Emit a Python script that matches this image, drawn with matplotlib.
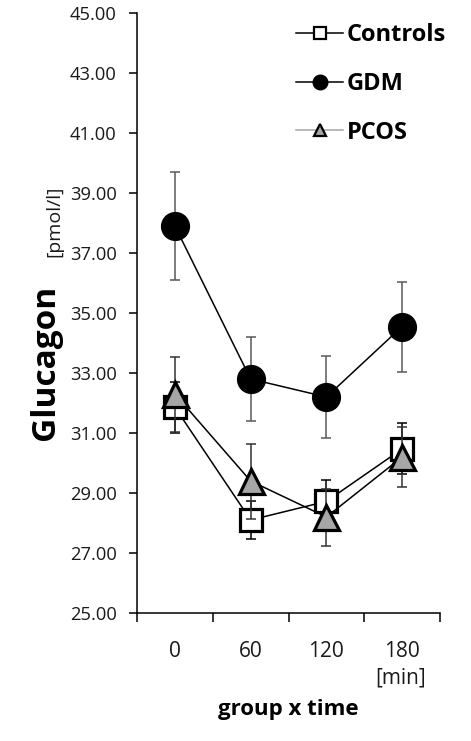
import matplotlib
matplotlib.use("Agg")
import matplotlib.pyplot as plt
from matplotlib.lines import Line2D
import numpy as np

plt.rcParams['font.family'] = ['Open Sans', 'DejaVu Sans']

categories = ["0", "60", "120", "180"]
controls = [31.86, 28.10, 28.72, 30.47]
controls_err = [0.85, 0.65, 0.70, 0.85]
gdm = [37.90, 32.80, 32.20, 34.55]
gdm_err = [1.80, 1.40, 1.35, 1.50]
pcos = [32.30, 29.40, 28.20, 30.20]
pcos_err = [1.25, 1.25, 0.95, 1.00]
yticks = [25, 27, 29, 31, 33, 35, 37, 39, 41, 43, 45]

W, H = 471, 741
fig = plt.figure(figsize=(W / 100, H / 100), dpi=100)
ax = fig.add_axes([137 / W, 1 - 613 / H, (440 - 137) / W, (613 - 13) / H])

x = np.arange(len(categories))

ax.errorbar(x, controls, yerr=controls_err, fmt='none', ecolor='black',
            elinewidth=1.1, capsize=3.6, capthick=1.1, zorder=2)
ax.plot(x, controls, '-', color='black', lw=1.1, marker='s', markersize=16.5,
        markerfacecolor='white', markeredgecolor='black', markeredgewidth=2.3, zorder=3)

ax.errorbar(x, pcos, yerr=pcos_err, fmt='none', ecolor='#333333',
            elinewidth=1.1, capsize=3.6, capthick=1.1, zorder=4)
ax.plot(x, pcos, '-', color='black', lw=1.1, marker='^', markersize=18,
        markerfacecolor='#a6a6a6', markeredgecolor='black', markeredgewidth=2.3, zorder=5)

ax.errorbar(x, gdm, yerr=gdm_err, fmt='none', ecolor='#595959',
            elinewidth=1.1, capsize=3.6, capthick=1.1, zorder=6)
ax.plot(x, gdm, '-', color='black', lw=1.1, marker='o', markersize=20,
        markerfacecolor='black', markeredgecolor='black', zorder=7)

ax.set_xlim(-0.5, len(categories) - 0.5)
ax.set_ylim(25, 45)
ax.set_yticks(yticks)
ax.set_yticklabels([f"{v:.2f}" for v in yticks], fontsize=13.2, color='#1a1a1a')
ax.tick_params(axis='y', direction='out', length=5.5, width=1.1, pad=9)

ax.set_xticks(x)
ax.set_xticklabels(categories, fontsize=15, color='#1a1a1a')
ax.set_xticks(np.arange(len(categories) + 1) - 0.5, minor=True)
ax.tick_params(axis='x', which='major', length=0, pad=20)
ax.tick_params(axis='x', which='minor', direction='out', length=6.5, width=1.1)

for s in ['top', 'right']:
    ax.spines[s].set_visible(False)
for s in ['left', 'bottom']:
    ax.spines[s].set_linewidth(1.1)

fig.text(45 / W, 1 - 362 / H, "Glucagon", rotation=90, fontsize=24, fontweight='bold',
         ha='center', va='center')
fig.text(54 / W, 1 - 221 / H, "[pmol/l]", rotation=90, fontsize=14,
         ha='center', va='center', color='#1a1a1a')
fig.text(401 / W, 1 - 678 / H, "[min]", fontsize=15, ha='center', va='center', color='#1a1a1a')
fig.text(288 / W, 1 - 710 / H, "group x time", fontsize=16, fontweight='bold',
         ha='center', va='center')

handles = [
    Line2D([], [], color='black', lw=1.1, marker='s', markersize=9,
           markerfacecolor='white', markeredgecolor='black', markeredgewidth=1.6),
    Line2D([], [], color='black', lw=1.1, marker='o', markersize=10.5,
           markerfacecolor='black', markeredgecolor='black'),
    Line2D([], [], color='#a6a6a6', lw=1.1, marker='^', markersize=9,
           markerfacecolor='#a6a6a6', markeredgecolor='black', markeredgewidth=1.6),
]
leg = ax.legend(handles, ["Controls", "GDM", "PCOS"], loc='upper left',
                bbox_to_anchor=(296 / W, 1 - 23 / H), bbox_transform=fig.transFigure,
                frameon=False, handlelength=2.0, handletextpad=0.15, labelspacing=1.05,
                borderaxespad=0, borderpad=0, prop={'weight': 'bold', 'size': 17})

fig.savefig("out.png", dpi=100)
